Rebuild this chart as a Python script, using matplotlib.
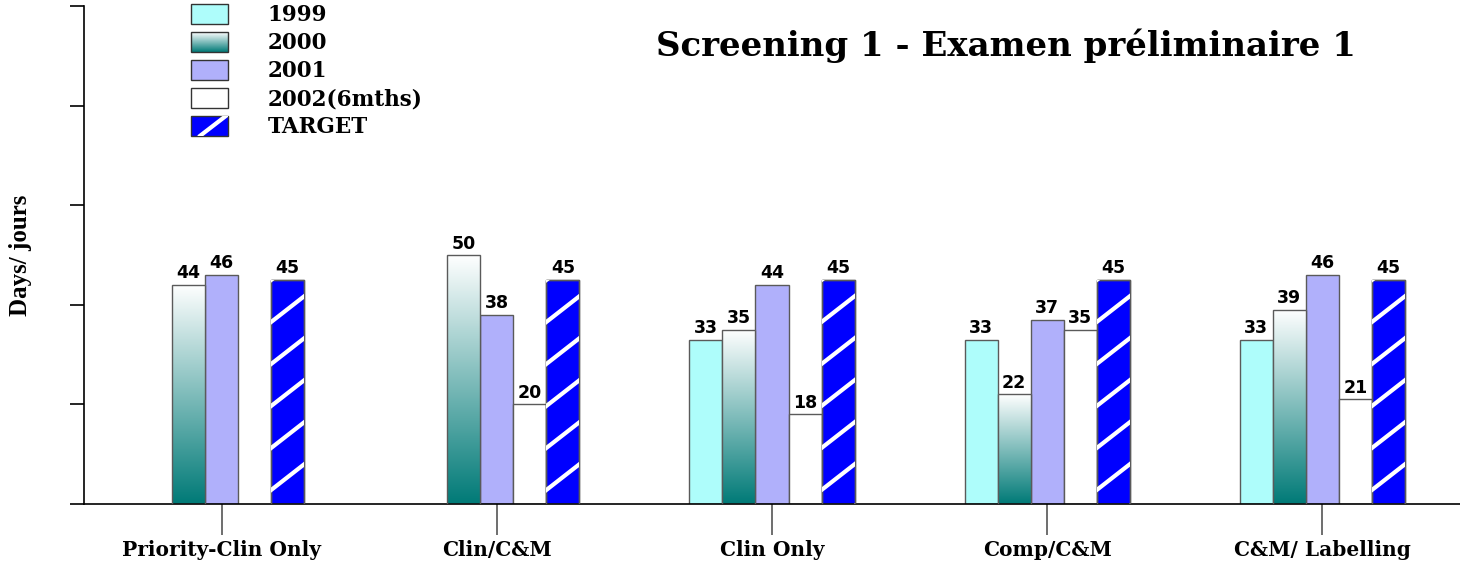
import numpy as np
import matplotlib
matplotlib.use("Agg")
import matplotlib.pyplot as plt
from matplotlib.colors import LinearSegmentedColormap
from matplotlib.patches import Rectangle
from matplotlib.lines import Line2D
from matplotlib.image import BboxImage
from matplotlib.transforms import Bbox, TransformedBbox, IdentityTransform
from matplotlib.legend_handler import HandlerBase

# data
categories = ['Priority-Clin Only', 'Clin/C&M', 'Clin Only', 'Comp/C&M', 'C&M/ Labelling']
series_names = ['1999', '2000', '2001', '2002(6mths)', 'TARGET']
v1999 = [np.nan, np.nan, 33, 33, 33]
v2000 = [44, 50, 35, 22, 39]
v2001 = [46, 38, 44, 37, 46]
v2002 = [np.nan, 20, 18, 35, 21]
target = [45, 45, 45, 45, 45]

EDGE = '#5a5a5a'
C1999 = '#aefdfb'
C2001 = '#b0b0fb'
CTARGET = '#0000ff'
teal = LinearSegmentedColormap.from_list('teal', ['#007a77', '#ffffff'])
SERIF = 'DejaVu Serif'

W, H = 1460, 565
fig = plt.figure(figsize=(W / 100, H / 100), dpi=100)
ax = fig.add_axes([84 / W, 61 / H, 1376 / W, 498 / H])
ax.set_xlim(-0.5, 4.5)
ax.set_ylim(0, 100)

x = np.arange(len(categories))
bw = 0.12
offsets = [-2 * bw, -bw, 0, bw, 2 * bw]
grad = np.linspace(0, 1, 256).reshape(-1, 1)


def labels(xs, vals):
    for xi, v in zip(xs, vals):
        if not np.isnan(v):
            ax.text(xi, v + 0.5, f'{v:g}', ha='center', va='bottom',
                    fontsize=12.5, fontweight='heavy', family='DejaVu Sans')


# 1999
ax.bar(x + offsets[0], v1999, bw, color=C1999, edgecolor=EDGE, linewidth=1)
# 2000 - gradient bars
bars2000 = ax.bar(x + offsets[1], v2000, bw, facecolor='none', edgecolor=EDGE, linewidth=1, zorder=3)
for b in bars2000:
    im = ax.imshow(grad, extent=[b.get_x(), b.get_x() + b.get_width(), 0, b.get_height()],
                   origin='lower', cmap=teal, aspect='auto', zorder=2)
    im.set_clip_path(b)
# 2001
ax.bar(x + offsets[2], v2001, bw, color=C2001, edgecolor=EDGE, linewidth=1)
# 2002
ax.bar(x + offsets[3], v2002, bw, color='white', edgecolor=EDGE, linewidth=1)
# target - blue with white stripes
bars_t = ax.bar(x + offsets[4], target, bw, color=CTARGET, edgecolor=EDGE, linewidth=1, zorder=2)

ax.set_xlim(-0.5, 4.5)
ax.set_ylim(0, 100)

# white diagonal stripes, drawn in pixel space and clipped to each target bar
step = 42
slope = 0.78
for b in bars_t:
    (px0, py0), (px1, py1) = ax.transData.transform(
        [(b.get_x(), 0), (b.get_x() + b.get_width(), b.get_height())])
    for k in range(-2, int((py1 - py0) / step) + 2):
        yb = py0 + 14 + k * step
        ln = Line2D([px0 - 5, px1 + 5], [yb - 5 * slope, yb + (px1 - px0 + 5) * slope],
                    color='white', linewidth=3.0, transform=IdentityTransform(), zorder=2.5)
        ln.set_clip_path(b)
        fig.add_artist(ln)
    ax.add_patch(Rectangle((b.get_x(), 0), b.get_width(), b.get_height(),
                           facecolor='none', edgecolor=EDGE, linewidth=1, zorder=3))

labels(x + offsets[0], v1999)
labels(x + offsets[1], v2000)
labels(x + offsets[2], v2001)
labels(x + offsets[3], v2002)
labels(x + offsets[4], target)

# axes styling
for s in ['top', 'right']:
    ax.spines[s].set_visible(False)
ax.spines['left'].set_linewidth(1.2)
ax.spines['bottom'].set_linewidth(1.2)
ax.set_yticks(np.arange(0, 101, 20))
ax.set_yticklabels([])
ax.tick_params(axis='y', length=10, width=1.2, direction='out')
ax.set_xticks(x)
ax.set_xticklabels(categories, fontsize=14.5, fontweight='bold', family=SERIF)
ax.tick_params(axis='x', length=22, width=1.2, color='#555555', pad=4)

ax.set_ylabel('Days/ jours', fontsize=18, fontweight='bold', family='Liberation Serif', labelpad=24)
fig.text(1006 / W, 1 - 46 / H, 'Screening 1 - Examen préliminaire 1', ha='center', va='center',
         fontsize=24.5, fontweight='bold', family=SERIF)


# legend
class GradHandler(HandlerBase):
    def create_artists(self, legend, orig_handle, xdescent, ydescent, width, height, fontsize, trans):
        bb = TransformedBbox(Bbox.from_bounds(-xdescent, -ydescent, width, height), trans)
        img = BboxImage(bb, cmap=teal, origin='lower', interpolation='bilinear')
        img.set_data(grad)
        r = Rectangle((-xdescent, -ydescent), width, height, facecolor='none',
                      edgecolor='#333333', linewidth=1, transform=trans)
        return [img, r]


class StripeHandler(HandlerBase):
    def create_artists(self, legend, orig_handle, xdescent, ydescent, width, height, fontsize, trans):
        x0, y0 = -xdescent, -ydescent
        r = Rectangle((x0, y0), width, height, facecolor=CTARGET, edgecolor='#333333',
                      linewidth=1, transform=trans)
        ln = Line2D([x0 + 0.25 * width, x0 + 0.95 * width], [y0, y0 + height],
                    color='white', linewidth=3.0, transform=trans)
        ln.set_clip_path(r)
        return [r, ln]


h1999 = Rectangle((0, 0), 1, 1, facecolor=C1999, edgecolor='#333333')
h2000 = Rectangle((0, 0), 1, 1)
h2001 = Rectangle((0, 0), 1, 1, facecolor=C2001, edgecolor='#333333')
h2002 = Rectangle((0, 0), 1, 1, facecolor='white', edgecolor='#333333')
htarget = Rectangle((0, 0), 1, 1)
leg = ax.legend([h1999, h2000, h2001, h2002, htarget], series_names,
                handler_map={h2000: GradHandler(), htarget: StripeHandler()},
                loc='upper left', bbox_to_anchor=(191 / W, 1 - 4 / H), bbox_transform=fig.transFigure,
                frameon=False, borderpad=0, borderaxespad=0, handlelength=1.72, handleheight=1.05,
                handletextpad=1.85, labelspacing=0.26,
                prop={'family': SERIF, 'weight': 'bold', 'size': 15.5})

fig.savefig('out.png', dpi=100)
